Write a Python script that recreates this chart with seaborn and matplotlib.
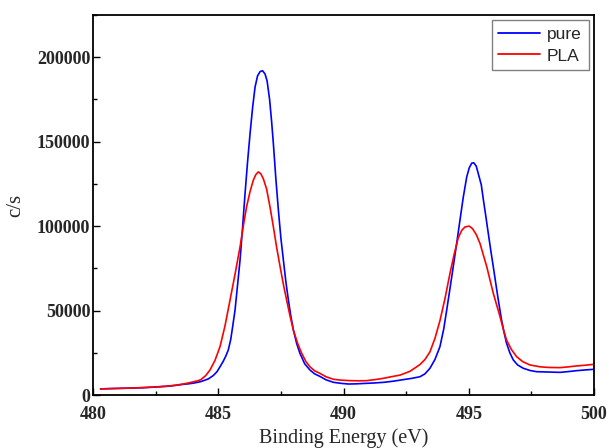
import matplotlib
matplotlib.use("Agg")
import matplotlib.pyplot as plt
import seaborn as sns
import pandas as pd
from matplotlib.ticker import MultipleLocator

# ---- data ----
pure_energy = [480.3, 480.7, 481.0, 481.5, 482.0, 482.5, 483.0, 483.3, 483.6, 483.8,
               484.0, 484.3, 484.6, 484.8, 484.95, 485.07, 485.2, 485.3, 485.4, 485.5,
               485.58, 485.67, 485.77, 485.87, 485.97, 486.07, 486.17, 486.27, 486.37, 486.47,
               486.57, 486.67, 486.77, 486.87, 486.95, 487.05, 487.13, 487.2, 487.3, 487.4,
               487.5, 487.6, 487.7, 487.8, 487.9, 488.0, 488.13, 488.26, 488.45, 488.66,
               488.85, 489.06, 489.3, 489.6, 489.9, 490.2, 490.5, 490.9, 491.2, 491.6,
               492.0, 492.3, 492.7, 493.05, 493.25, 493.45, 493.65, 493.85, 494.0, 494.12,
               494.25, 494.38, 494.52, 494.65, 494.78, 494.92, 495.02, 495.12, 495.2, 495.3,
               495.4, 495.5, 495.58, 495.68, 495.78, 495.88, 495.98, 496.08, 496.18, 496.31,
               496.41, 496.51, 496.64, 496.78, 496.95, 497.18, 497.45, 497.71, 498.2, 498.64,
               499.0, 499.3, 499.7, 500.0]
pure_counts = [3600, 3800, 3900, 4100, 4300, 4700, 5200, 5700, 6300, 6600,
               7000, 7900, 9500, 11500, 13800, 16700, 20000, 23000, 26600, 33000,
               41000, 50300, 65000, 79900, 99000, 119300, 138000, 154800, 170000, 182400,
               189000, 191500, 192000, 190000, 186000, 175000, 162000, 148900, 128000, 109500,
               93000, 79900, 67000, 56200, 46500, 38400, 30500, 24700, 18500, 14800,
               12500, 11000, 9000, 7500, 6900, 6500, 6600, 6900, 7100, 7500,
               8200, 8900, 9800, 10800, 12500, 15800, 21000, 28600, 39000, 50300,
               63000, 75900, 90000, 103600, 117000, 129200, 134500, 137300, 137500, 135500,
               130000, 124500, 116000, 106000, 95700, 85500, 75900, 66000, 56200, 44400,
               37000, 30600, 25000, 20700, 17800, 15800, 14500, 13800, 13600, 13400,
               13900, 14400, 14900, 15200]

pla_energy = [480.3, 481.0, 481.5, 482.0, 482.5, 483.0, 483.3, 483.6, 483.8, 484.0,
              484.15, 484.3, 484.5, 484.67, 484.87, 485.07, 485.27, 485.47, 485.67, 485.87,
              486.0, 486.13, 486.27, 486.4, 486.5, 486.6, 486.7, 486.8, 486.93, 487.07,
              487.2, 487.33, 487.47, 487.6, 487.73, 487.87, 488.0, 488.17, 488.33, 488.5,
              488.66, 488.85, 489.06, 489.3, 489.6, 489.9, 490.26, 490.6, 490.93, 491.3,
              491.6, 491.9, 492.26, 492.65, 493.05, 493.25, 493.45, 493.65, 493.85, 494.05,
              494.25, 494.42, 494.58, 494.72, 494.85, 495.02, 495.15, 495.3, 495.45, 495.58,
              495.72, 495.85, 495.98, 496.12, 496.25, 496.38, 496.51, 496.7, 496.91, 497.15,
              497.44, 497.84, 498.2, 498.64, 499.0, 499.3, 499.7, 500.0]
pla_counts = [3600, 3900, 4100, 4400, 4800, 5300, 5800, 6500, 7100, 7800,
              8300, 9000, 11500, 14800, 20500, 28600, 41000, 56200, 71500, 87700,
              100000, 111400, 120500, 127200, 130500, 132100, 131000, 128000, 122000, 111000,
              99600, 87500, 75900, 65500, 56200, 46500, 38400, 30500, 24700, 19800,
              16700, 14300, 12800, 10800, 9300, 8800, 8500, 8400, 8500, 9200,
              9900, 10800, 11800, 14000, 18000, 21000, 25500, 33500, 44000, 57000,
              72000, 83500, 93000, 97500, 99500, 100000, 98500, 95000, 89700, 83000,
              75900, 68000, 60200, 53000, 46300, 39000, 32500, 27000, 22700, 19800,
              17800, 16700, 16300, 16200, 16700, 17200, 17700, 18200]

series_names = ["pure", "PLA"]
series_colors = ["#0000FF", "#FF0000"]
x_ticks = [480, 485, 490, 495, 500]
y_ticks = [0, 50000, 100000, 150000, 200000]

df = pd.concat([
    pd.DataFrame({"energy": pure_energy, "counts": pure_counts, "series": series_names[0]}),
    pd.DataFrame({"energy": pla_energy, "counts": pla_counts, "series": series_names[1]}),
], ignore_index=True)

sns.set_theme(style="white")
plt.rcParams["font.family"] = ["Liberation Serif", "DejaVu Serif"]

fig = plt.figure(figsize=(6.09, 4.48), dpi=100)
ax = fig.add_axes([93 / 609, 1 - 395 / 448, (594 - 93) / 609, (395 - 15) / 448])

sns.lineplot(data=df, x="energy", y="counts", hue="series",
             palette=dict(zip(series_names, series_colors)),
             sort=False, estimator=None, linewidth=1.2, ax=ax, legend=False)

ax.set_xlim(480, 500)
ax.set_ylim(0, 225000)
ax.set_xticks(x_ticks)
ax.set_yticks(y_ticks)
ax.set_xticklabels([str(t) for t in x_ticks])
ax.set_yticklabels([str(t) for t in y_ticks])
ax.xaxis.set_minor_locator(MultipleLocator(2.5))
ax.yaxis.set_minor_locator(MultipleLocator(25000))

ax.tick_params(which="both", direction="in", top=False, right=False,
               left=True, bottom=True, color="black", width=1.0)
ax.tick_params(which="major", length=5)
ax.tick_params(which="minor", length=3)
ax.tick_params(axis="x", which="major", pad=8, labelsize=13)
ax.tick_params(axis="y", which="major", pad=2, labelsize=13)
for lab in ax.get_xticklabels() + ax.get_yticklabels():
    lab.set_fontweight("bold")

for sp in ax.spines.values():
    sp.set_color("black")
    sp.set_linewidth(1.3)
    sp.set_visible(True)

ax.set_xlabel("Binding Energy (eV)", fontsize=14.5, labelpad=4)
ax.set_ylabel("c/s", fontsize=15, labelpad=8)

handles = [plt.Line2D([], [], color=c, linewidth=1.3) for c in series_colors]
leg = ax.legend(handles, series_names, loc="upper right",
                prop={"family": ["Liberation Sans", "DejaVu Sans"], "size": 12.5},
                frameon=True, fancybox=False, edgecolor="#808080", framealpha=1,
                handlelength=2.4, handletextpad=0.4, labelspacing=0.35,
                borderpad=0.4, borderaxespad=0.3)
leg.get_frame().set_linewidth(1.0)

fig.savefig("out.png", dpi=100)
